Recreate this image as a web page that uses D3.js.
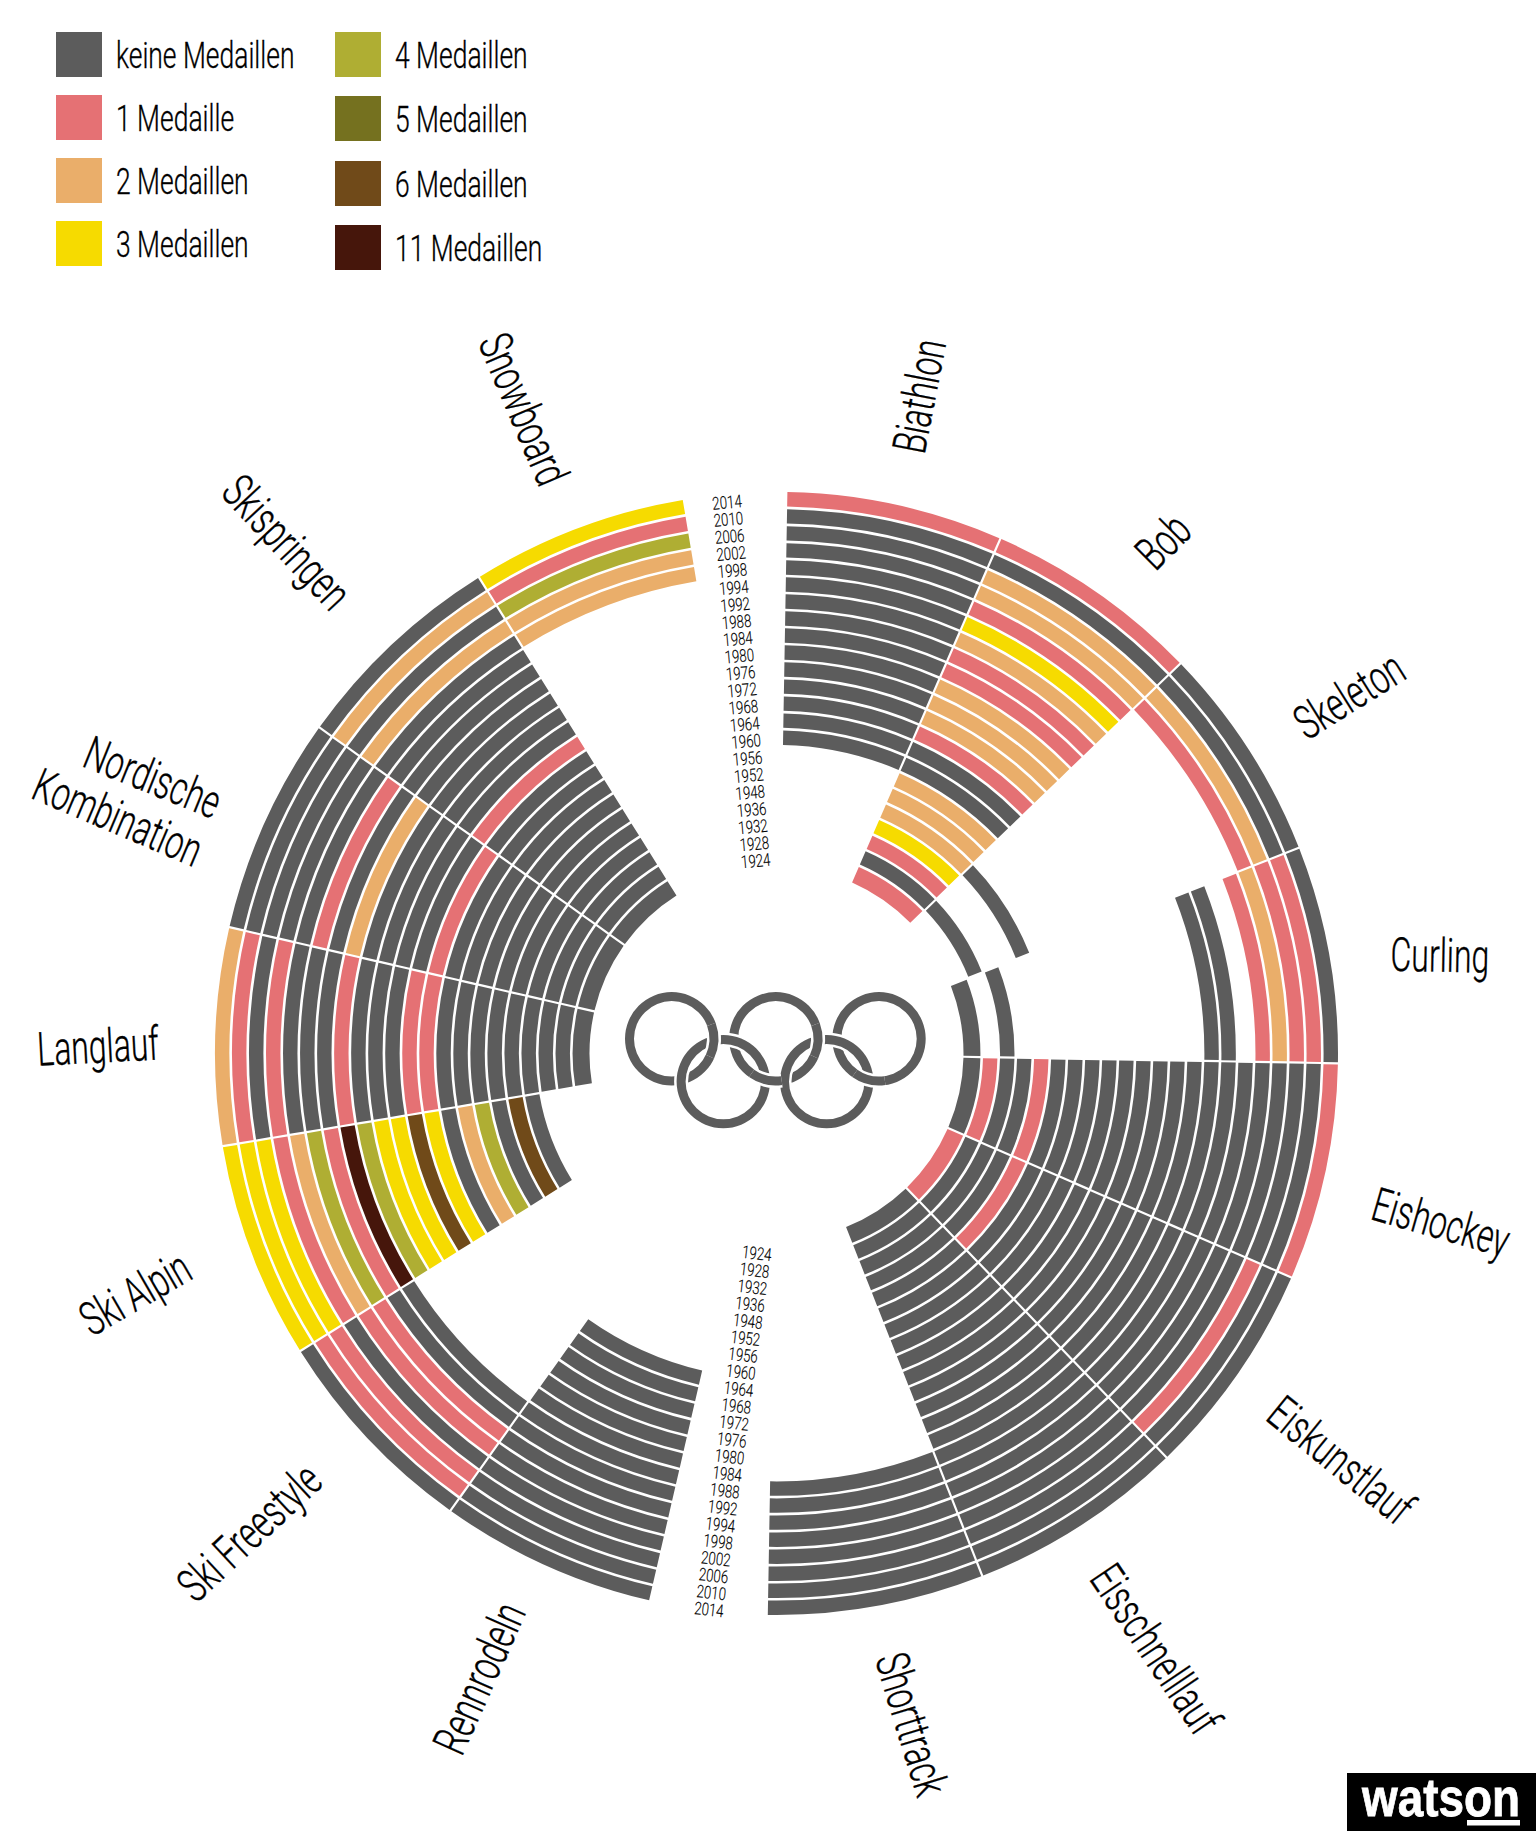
<!DOCTYPE html>
<html>
<head>
<meta charset="utf-8">
<script src="https://cdn.jsdelivr.net/npm/d3@7"></script>
<style>
  body { margin: 0; background: #fff; }
  text { font-family: Roboto, "Open Sans", sans-serif; font-weight: 300; fill: #000; stroke: #000; stroke-width: 0.35; }
</style>
</head>
<body>
<svg id="chart" width="1536" height="1831"></svg>
<script>
const _ = null; // no competition that year

const years = [1924, 1928, 1932, 1936, 1948, 1952, 1956, 1960, 1964, 1968, 1972, 1976, 1980, 1984, 1988, 1992, 1994, 1998, 2002, 2006, 2010, 2014];

// medals per games, 1924 first (inner ring) to 2014 (outer ring)
const biathlon = [_,_,_,_,_,_,_,0,0,0,0,0,0,0,0,0,0,0,0,0,0,1];
const bob = [1,0,1,3,2,2,2,0,0,1,2,2,2,1,1,2,3,1,2,2,0,1];
const skeleton = [_,0,_,_,0,_,_,_,_,_,_,_,_,_,_,_,_,_,1,2,0,0];
const curling = [0,_,0,_,_,_,_,_,_,_,_,_,_,_,0,0,_,1,2,1,1,0];
const eishockey = [0,1,0,0,1,0,0,0,0,0,0,0,0,0,0,0,0,0,0,0,0,1];
const eiskunstlauf = [1,0,0,0,1,0,0,0,0,0,0,0,0,0,0,0,0,0,0,1,0,0];
const eisschnelllauf = [0,0,0,0,0,0,0,0,0,0,0,0,0,0,0,0,0,0,0,0,0,0];
const shorttrack = [_,_,_,_,_,_,_,_,_,_,_,_,_,_,0,0,0,0,0,0,0,0];
const rennrodeln = [_,_,_,_,_,_,_,_,0,0,0,0,0,0,0,0,0,0,0,0,0,0];
const skiFreestyle = [_,_,_,_,_,_,_,_,_,_,_,_,_,_,0,0,1,1,0,1,1,0];
const skiAlpin = [_,_,_,0,6,0,4,2,0,3,6,3,3,4,11,1,4,2,1,3,3,3];
const langlauf = [0,0,0,0,0,0,0,0,0,1,1,0,0,0,1,0,0,0,1,0,1,2];
const nordische = [0,0,0,0,0,0,0,0,0,1,0,0,0,0,2,0,1,0,0,0,0,0];
const skispringen = [0,0,0,0,0,0,0,0,0,0,1,0,0,0,0,0,0,0,2,0,2,0];
const snowboard = [_,_,_,_,_,_,_,_,_,_,_,_,_,_,_,_,_,2,2,4,1,3];

const rightSports = [biathlon, bob, skeleton, curling, eishockey, eiskunstlauf, eisschnelllauf, shorttrack];
const leftSports = [rennrodeln, skiFreestyle, skiAlpin, langlauf, nordische, skispringen, snowboard];

const medalCounts = [0, 1, 2, 3, 4, 5, 6, 11];
const medalColors = ["#5c5c5c", "#e57174", "#eaae6a", "#f6db00", "#afae33", "#75711f", "#704a19", "#46160b"];
const legendLabels = ["keine Medaillen", "1 Medaille", "2 Medaillen", "3 Medaillen", "4 Medaillen", "5 Medaillen", "6 Medaillen", "11 Medaillen"];

// text, x, y, rotation
const sportLabels = [
  ["Biathlon", 919, 396, -79],
  ["Bob", 1163, 541, -45],
  ["Skeleton", 1349, 695, -32],
  ["Curling", 1440, 955, 1],
  ["Eishockey", 1441, 1222, 16],
  ["Eiskunstlauf", 1341, 1460, 39],
  ["Eisschnelllauf", 1156, 1649, 56],
  ["Shorttrack", 912, 1724, 73],
  ["Rennrodeln", 479, 1678, -66],
  ["Ski Freestyle", 249, 1532, -43],
  ["Ski Alpin", 135, 1293, -30],
  ["Langlauf", 98, 1046, -3],
  ["Nordische", 153, 777, 22],
  ["Kombination", 118, 817, 23],
  ["Skispringen", 287, 542, 47],
  ["Snowboard", 524, 409, 67]
];

const svg = d3.select("#chart");
const cx = 776.5;
const cy = 1053.5;
const toRad = Math.PI / 180;

const color = d3.scaleOrdinal().domain(medalCounts).range(medalColors);
const radius = d3.scaleBand().domain(years).range([189.5, 561.5]).paddingInner(0.153).paddingOuter(0);
const rightAngle = d3.scaleBand().domain(d3.range(rightSports.length)).range([1, 181]);
const leftAngle = d3.scaleBand().domain(d3.range(leftSports.length)).range([193, 350.5]);

const arc = d3.arc().padRadius(400).padAngle(2.2 / 400);
const chart = svg.append("g").attr("transform", `translate(${cx},${cy})`);

function drawSector(values, a0, a1) {
  const rows = values.map((v, i) => ({ year: years[i], value: v })).filter(d => d.value !== null);
  chart.append("g").selectAll("path")
    .data(rows)
    .enter()
    .append("path")
    .attr("fill", d => color(d.value))
    .attr("d", d => arc({
      // the first ring is drawn a little thicker in the original
      innerRadius: radius(d.year) - (d.year === years[0] ? 2.5 : 0),
      outerRadius: radius(d.year) + radius.bandwidth(),
      startAngle: a0 * toRad,
      endAngle: a1 * toRad
    }));
}

rightSports.forEach((s, i) => drawSector(s, rightAngle(i), rightAngle(i) + rightAngle.bandwidth()));
leftSports.forEach((s, i) => drawSector(s, leftAngle(i), leftAngle(i) + leftAngle.bandwidth()));

// condensed text: there is no Oswald here, so squeeze the glyphs
function label(parent, str, x, y, rot, size, squeeze, anchor = "middle") {
  return parent.append("text")
    .attr("transform", `translate(${x},${y}) rotate(${rot}) scale(${squeeze},1)`)
    .attr("text-anchor", anchor)
    .attr("dy", "0.355em")
    .style("font-size", size + "px")
    .text(str);
}

// year columns in the two gaps, straight line from first year to last
function yearColumn(from, to, rot) {
  const along = d3.scalePoint().domain(years).range([0, 1]);
  const place = d3.interpolate(from, to);
  years.forEach(y => {
    const p = place(along(y));
    label(svg, y, p[0], p[1], rot, 17.5, 0.76).style("stroke-width", 0.15);
  });
}
yearColumn([755.7, 860.8], [727, 502.2], -5);
yearColumn([756.9, 1253.3], [709, 1609.5], 6.5);

sportLabels.forEach(d => label(svg, d[0], d[1], d[2], d[3], 47, 0.68));

// legend
const legendX = [56, 335];
const legendY = [[32, 95, 158, 221], [32, 96, 161, 225]];
const legendText = [116, 395];
medalCounts.forEach((m, i) => {
  const col = i < 4 ? 0 : 1;
  const y = legendY[col][i % 4];
  svg.append("rect").attr("x", legendX[col]).attr("y", y).attr("width", 46).attr("height", 45).attr("fill", color(m));
  label(svg, legendLabels[i], legendText[col], y + 23, 0, 37, 0.715, "start");
});

// olympic rings
const ringR = 42.2;
const ringW = 9;
const rings = [[671.7, 1038.8], [775.8, 1038.8], [879, 1038.8], [723.3, 1081.6], [826.7, 1081.6]];
const logo = svg.append("g");
const ringArc = d3.arc();
function ringPart(c, a0, a1, halo) {
  const p = {
    innerRadius: ringR - ringW / 2 - halo,
    outerRadius: ringR + ringW / 2 + halo,
    startAngle: a0 * toRad,
    endAngle: a1 * toRad
  };
  logo.append("path")
    .attr("transform", `translate(${c[0]},${c[1]})`)
    .attr("fill", halo > 0 ? "#fff" : medalColors[0])
    .attr("d", ringArc(p));
}
rings.forEach(c => {
  ringPart(c, 0, 360, 2.5);
  ringPart(c, 0, 360, 0);
});
// weave: upper rings back on top at one crossing each
[[rings[0], 70, 115], [rings[1], 172, 215], [rings[1], 70, 115], [rings[2], 172, 215]].forEach(d => {
  ringPart(d[0], d[1], d[2], 2.5);
  ringPart(d[0], d[1], d[2], 0);
});

// watson logo
svg.append("rect").attr("x", 1347).attr("y", 1773).attr("width", 189).attr("height", 58).attr("fill", "#000");
svg.append("text")
  .attr("transform", "translate(1362,1816) scale(0.85,1)")
  .style("font-family", "'Liberation Sans', Arial, sans-serif")
  .style("font-weight", 700).style("font-size", "54px").style("fill", "#fff")
  .style("stroke", "#fff").style("stroke-width", 0.8)
  .text("watson");
svg.append("rect").attr("x", 1467).attr("y", 1820).attr("width", 53).attr("height", 5.5).attr("fill", "#fff");
</script>
</body>
</html>
